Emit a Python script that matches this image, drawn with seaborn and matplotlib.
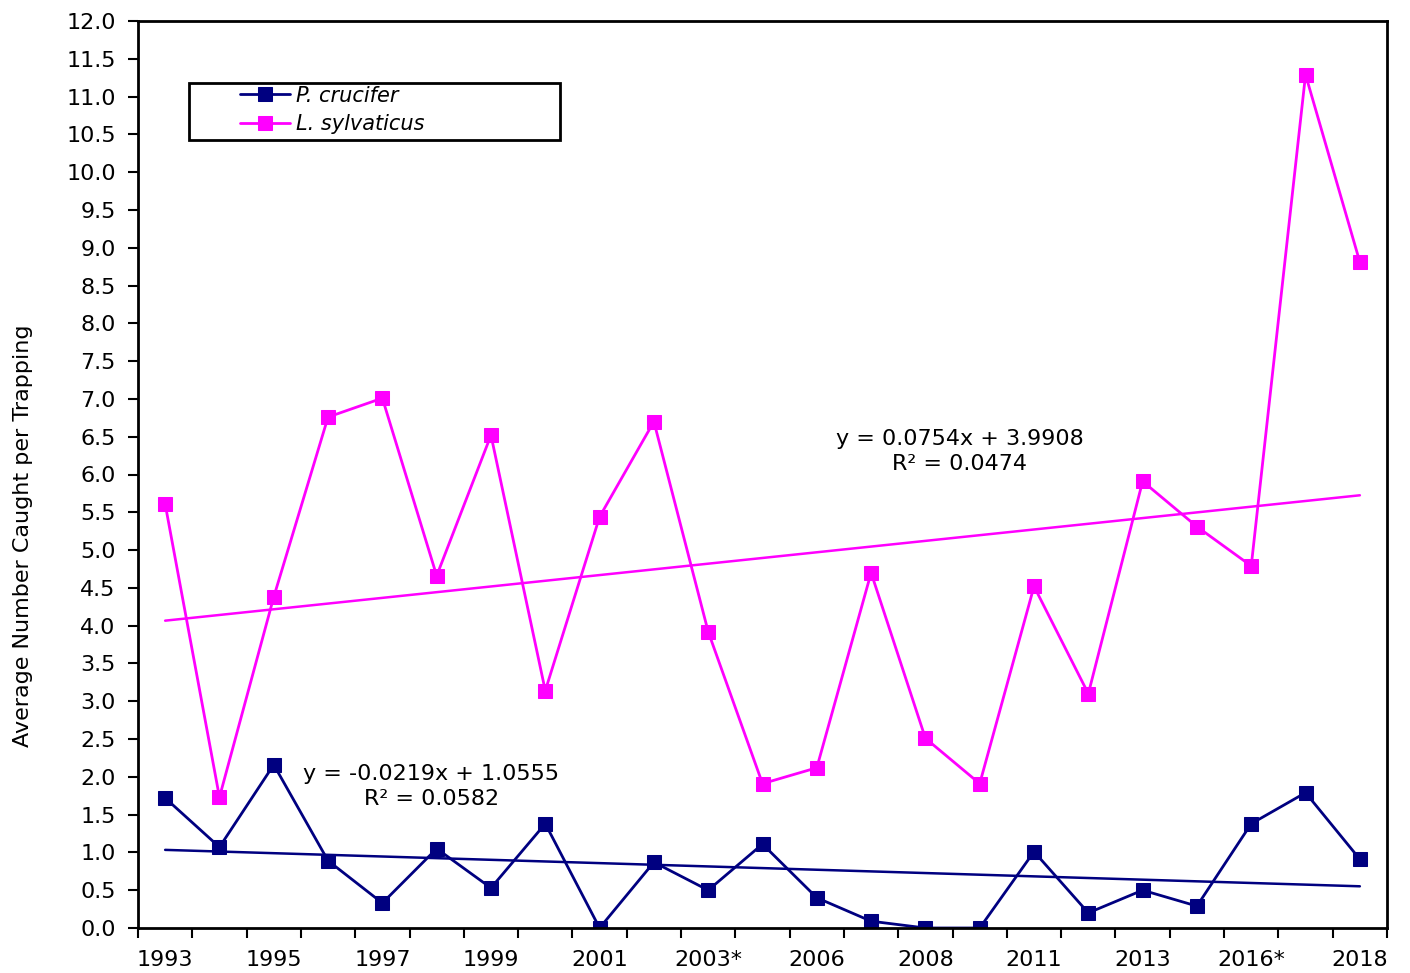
import numpy as np
import pandas as pd
import matplotlib
matplotlib.use("Agg")
import matplotlib.pyplot as plt
import seaborn as sns
from matplotlib.patches import Rectangle

# === DADOS ===
anos = ["1993", "1994", "1995", "1996", "1997", "1998", "1999", "2000",
        "2001", "2002", "2003*", "2005", "2006", "2007", "2008", "2010",
        "2011", "2012", "2013", "2015", "2016*", "2017", "2018"]
p_crucifer = [1.72, 1.07, 2.16, 0.89, 0.33, 1.05, 0.53, 1.38, 0.00, 0.87,
              0.50, 1.11, 0.40, 0.09, 0.00, 0.00, 1.01, 0.20, 0.50, 0.29,
              1.38, 1.79, 0.91]
l_sylvaticus = [5.61, 1.73, 4.38, 6.76, 7.01, 4.66, 6.52, 3.14, 5.44, 6.70,
                3.92, 1.91, 2.12, 4.70, 2.51, 1.91, 4.52, 3.10, 5.91, 5.31,
                4.79, 11.29, 8.81]
# tendência linear (coeficientes do gráfico)
tend_pc = (-0.0219, 1.0555, 0.0582)
tend_ls = (0.0754, 3.9908, 0.0474)

AZUL = "#000080"
ROSA = "#FF00FF"
FS = 16

sns.set_style("ticks")
plt.rcParams["font.family"] = ["DejaVu Sans"]
plt.rcParams.update({"text.color": "black", "axes.labelcolor": "black",
                     "xtick.color": "black", "ytick.color": "black"})

x = np.arange(1, len(anos) + 1)
df = pd.DataFrame({"x": x, "pc": p_crucifer, "ls": l_sylvaticus})

fig = plt.figure(figsize=(14.1, 9.73), dpi=100)
ax = fig.add_axes([138 / 1410, 1 - 928 / 973, 1249 / 1410, 907 / 973])

sns.lineplot(data=df, x="x", y="pc", ax=ax, color=AZUL, marker="s",
             markersize=10, markeredgecolor=AZUL, linewidth=2,
             label="P. crucifer")
sns.lineplot(data=df, x="x", y="ls", ax=ax, color=ROSA, marker="s",
             markersize=10, markeredgecolor=ROSA, linewidth=2,
             label="L. sylvaticus")

df["tpc"] = tend_pc[0] * df["x"] + tend_pc[1]
df["tls"] = tend_ls[0] * df["x"] + tend_ls[1]
sns.lineplot(data=df, x="x", y="tpc", ax=ax, color=AZUL, linewidth=1.8, legend=False)
sns.lineplot(data=df, x="x", y="tls", ax=ax, color=ROSA, linewidth=1.8, legend=False)

ax.text(0.235, 0.156,
        f"y = {tend_pc[0]:.4f}x + {tend_pc[1]:.4f}\nR\u00b2 = {tend_pc[2]:.4f}",
        transform=ax.transAxes, ha="center", va="center", fontsize=FS,
        linespacing=1.3)
ax.text(0.658, 0.525,
        f"y = {tend_ls[0]:.4f}x + {tend_ls[1]:.4f}\nR\u00b2 = {tend_ls[2]:.4f}",
        transform=ax.transAxes, ha="center", va="center", fontsize=FS,
        linespacing=1.3)

# eixos
ax.set_xlim(0.5, len(anos) + 0.5)
ax.set_ylim(0, 12)
ax.set_yticks(np.arange(0, 12.01, 0.5))
ax.set_yticklabels([f"{v:.1f}" for v in np.arange(0, 12.01, 0.5)])
ax.set_xticks(np.arange(0.5, len(anos) + 1, 1))
ax.set_xticklabels([])
ax.set_xticks(x[::2], minor=True)
ax.set_xticklabels(anos[::2], minor=True)
ax.tick_params(axis="x", which="minor", length=0, labelsize=FS, pad=16)
ax.tick_params(axis="x", which="major", length=7, width=1.5)
ax.tick_params(axis="y", length=7, width=1.5, labelsize=FS, pad=9)
ax.set_xlabel("")
ax.set_ylabel("Average Number Caught per Trapping", fontsize=FS)
ax.yaxis.set_label_coords(-0.084, 0.432)
for s in ax.spines.values():
    s.set_visible(True)
    s.set_linewidth(2)
    s.set_color("black")

# legenda
leg = ax.legend(loc="center left", bbox_to_anchor=(0.0817, 0.902),
                frameon=False, borderpad=0, borderaxespad=0,
                handlelength=2.4, handletextpad=0.3, labelspacing=0.42,
                prop={"style": "italic", "size": 15})
ax.add_patch(Rectangle((51 / 1249, 788 / 907), 371 / 1249, 57 / 907,
                       transform=ax.transAxes, fill=False, edgecolor="black",
                       linewidth=2, zorder=5))

fig.savefig("out.png", dpi=100)
